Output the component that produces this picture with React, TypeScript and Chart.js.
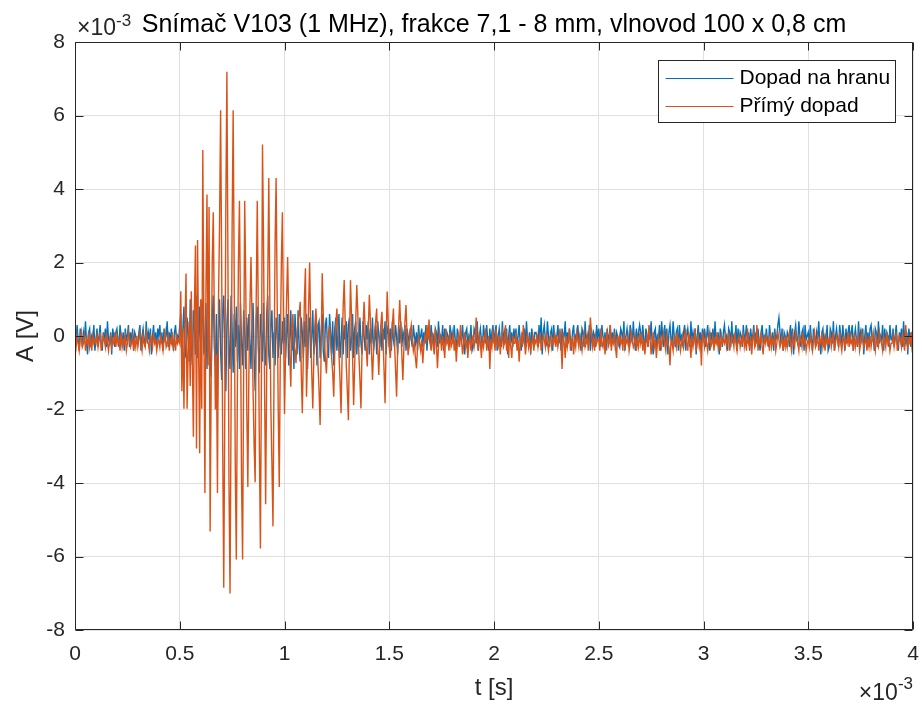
import React, { useEffect, useRef } from "react";
import { Chart, registerables } from "chart.js";

Chart.register(...registerables);

// ---------- texts ----------
const TITLE = "Snímač V103 (1 MHz), frakce 7,1 - 8 mm, vlnovod 100 x 0,8 cm";
const X_LABEL = "t [s]";
const Y_LABEL = "A [V]";
const SERIES_NAMES = ["Dopad na hranu", "Přímý dopad"];
const SCALE_EXPONENT = "-3";

// ---------- axes (values in units of 10^-3) ----------
const X_TICKS = [0, 0.5, 1, 1.5, 2, 2.5, 3, 3.5, 4];
const Y_TICKS = [-8, -6, -4, -2, 0, 2, 4, 6, 8];
const SAMPLE_STEP = 0.005; // time between samples, x 10^-3 s

// ---------- series (x 10^-3 V), one row = 0.1 x 10^-3 s ----------
const dopadNaHranu = [
  0.1,-0.2,0.3,-0.1,-0.4,0.2,0.0,-0.3,0.1,-0.1,0.4,-0.2,-0.5,0.1,0.2,-0.3,0.0,-0.1,0.3,-0.4,
  -0.1,0.2,-0.3,0.0,0.3,-0.2,-0.4,0.1,-0.1,0.2,-0.3,0.4,-0.1,-0.2,0.1,-0.5,0.2,0.0,-0.3,0.1,
  0.2,-0.1,-0.3,0.3,0.0,-0.2,0.1,-0.4,0.2,-0.1,0.0,0.3,-0.3,0.1,-0.2,0.2,-0.4,0.1,0.0,-0.2,
  -0.2,0.1,0.3,-0.4,0.0,0.2,-0.1,-0.3,0.4,-0.2,0.1,-0.1,0.2,-0.5,0.0,0.3,-0.2,0.1,-0.3,0.2,
  0.0,0.3,-0.2,0.1,-0.4,0.2,-0.1,0.0,0.4,-0.3,0.1,-0.2,0.2,-0.1,-0.4,0.1,0.3,-0.2,0.0,-0.1,
  0.3,0.6,-0.6,0.2,0.8,-0.4,-0.6,0.5,0.1,-0.7,1.0,-0.3,-0.8,0.7,0.2,-0.5,1.1,-0.6,0.0,0.8,
  -0.9,0.4,1.0,-0.5,-0.2,0.9,-0.9,0.3,0.6,-0.7,-1.1,0.5,1.1,-0.3,-0.8,0.6,-1.8,0.2,1.0,-0.4,
  -1.2,0.7,1.1,-0.6,-1.5,0.3,1.0,-0.4,-0.9,1.1,0.2,-1.0,0.6,-0.3,0.8,-0.7,0.3,-0.9,0.9,-0.2,
  -0.8,0.7,0.1,-0.9,0.5,-0.4,0.6,-0.2,-0.9,0.4,0.9,-0.6,-1.5,0.5,0.8,-0.3,-1.0,0.6,0.1,-0.7,
  0.9,-0.4,-0.8,0.6,1.1,-0.5,-0.9,0.3,0.7,-0.6,0.1,-0.8,0.5,0.2,-0.6,0.6,-0.3,-0.5,0.4,-0.2,
  0.5,-0.6,0.1,0.6,-0.8,-0.2,0.7,-0.4,0.2,-0.9,0.6,0.0,-0.5,0.7,-0.3,-0.7,0.5,0.1,-0.6,0.4,
  -0.3,0.6,-0.9,0.2,0.5,-0.6,0.0,0.7,-0.5,-0.2,0.5,-0.8,0.3,0.4,-0.6,0.1,0.6,-0.4,-0.7,0.3,
  0.5,-0.3,-0.6,0.6,0.1,-0.5,0.4,-0.8,0.2,0.5,-0.4,0.0,0.6,-0.6,-0.2,0.5,-0.5,0.3,-0.1,0.4,
  -0.6,0.3,0.5,-0.4,-0.1,0.6,-0.6,0.2,0.4,-0.5,0.1,-0.3,0.5,-0.2,-0.5,0.4,0.0,-0.4,0.3,-0.1,
  0.4,-0.5,0.2,-0.2,0.5,-0.4,-0.1,0.3,-0.5,0.4,0.0,-0.3,0.3,-0.4,0.2,-0.1,0.4,-0.5,0.1,0.3,
  -0.3,0.2,-0.4,0.4,-0.1,-0.3,0.3,0.0,-0.5,0.3,-0.2,0.4,-0.3,0.1,-0.1,0.3,-0.4,0.2,0.0,-0.2,
  0.2,-0.1,-0.3,0.3,0.0,-0.2,0.1,-0.4,0.3,-0.1,0.0,0.2,-0.3,0.1,-0.2,0.3,-0.4,0.1,0.0,-0.2,
  0.3,-0.1,0.0,-0.4,0.2,0.1,-0.3,0.4,-0.2,0.0,-0.1,0.3,-0.4,0.2,-0.2,0.1,0.0,-0.3,0.3,-0.1,
  0.1,-0.2,0.3,-0.1,-0.4,0.2,0.0,-0.3,0.1,-0.1,0.3,-0.2,-0.5,0.1,0.2,-0.3,0.0,-0.1,0.3,-0.4,
  -0.3,0.2,0.1,-0.2,0.4,-0.4,0.0,0.2,-0.1,-0.3,0.3,0.0,-0.2,0.3,-0.1,-0.4,0.2,-0.2,0.1,0.3,
  -0.2,0.1,0.3,-0.4,0.0,0.2,-0.1,-0.3,0.4,-0.2,0.1,-0.1,0.2,-0.5,0.0,0.3,-0.2,0.1,-0.3,0.2,
  -0.1,0.2,-0.3,0.0,0.3,-0.2,-0.4,0.1,-0.1,0.2,-0.3,0.4,-0.1,-0.2,0.1,-0.5,0.2,0.0,-0.3,0.1,
  0.1,0.0,-0.3,0.3,-0.2,0.5,-0.5,0.1,0.3,-0.1,-0.2,0.4,0.0,-0.3,0.1,0.2,-0.4,0.3,-0.1,0.0,
  0.0,0.3,-0.2,0.1,-0.4,0.2,-0.1,0.0,0.4,-0.3,0.1,-0.2,0.2,-0.1,-0.4,0.1,0.3,-0.2,0.0,-0.1,
  0.3,-0.1,0.0,-0.4,0.2,0.1,-0.3,0.4,-0.2,0.0,-0.1,0.3,-0.4,0.2,-0.2,0.1,0.0,-0.3,0.3,-0.1,
  0.2,-0.1,-0.3,0.3,0.0,-0.2,0.1,-0.4,0.2,-0.1,0.0,0.3,-0.3,0.1,-0.2,0.2,-0.4,0.1,0.0,-0.2,
  -0.3,0.2,0.1,-0.2,0.4,-0.4,0.0,0.2,-0.1,-0.3,0.3,0.0,-0.2,0.4,-0.1,-0.4,0.2,-0.2,0.1,0.3,
  0.1,-0.2,0.3,-0.1,-0.4,0.2,0.0,-0.3,0.1,-0.1,0.4,-0.2,-0.5,0.1,0.2,-0.3,0.0,-0.1,0.3,-0.4,
  0.4,0.0,-0.3,0.3,-0.2,0.2,-0.5,0.1,0.3,-0.1,-0.2,0.4,0.0,-0.3,0.1,0.2,-0.4,0.3,-0.1,0.0,
  -0.2,0.1,0.3,-0.4,0.0,0.2,-0.1,-0.3,0.4,-0.2,0.1,-0.1,0.2,-0.5,0.0,0.3,-0.2,0.1,-0.3,0.2,
  -0.1,0.2,-0.3,0.0,0.3,-0.2,-0.4,0.1,-0.1,0.2,-0.3,0.4,-0.1,-0.2,0.1,-0.5,0.2,0.0,-0.3,0.1,
  0.3,-0.1,0.0,-0.4,0.2,0.1,-0.3,0.4,-0.2,0.0,-0.1,0.3,-0.4,0.2,-0.2,0.1,0.0,-0.3,0.3,-0.1,
  0.0,0.3,-0.2,0.1,-0.4,0.2,-0.1,0.0,0.3,-0.3,0.1,-0.2,0.2,-0.1,-0.4,0.1,0.3,-0.2,0.0,-0.1,
  0.2,-0.1,-0.3,0.3,0.0,-0.2,0.1,-0.4,0.2,-0.1,0.0,0.3,0.5,0.1,-0.2,0.2,-0.4,0.1,0.0,-0.2,
  0.1,0.0,-0.3,0.3,-0.2,0.2,-0.5,0.1,0.3,-0.1,-0.2,0.4,0.0,-0.3,0.1,0.2,-0.4,0.3,-0.1,0.0,
  0.1,-0.2,0.3,-0.1,-0.4,0.2,0.0,-0.3,0.1,-0.1,0.4,-0.2,-0.5,0.1,0.2,-0.3,0.0,-0.1,0.3,-0.4,
  -0.3,0.2,0.1,-0.2,0.4,-0.4,0.0,0.2,-0.1,-0.3,0.3,0.0,-0.2,0.3,-0.1,-0.4,0.2,-0.2,0.1,0.3,
  -0.2,0.1,0.3,-0.4,0.0,0.2,-0.1,-0.3,0.4,-0.2,0.1,-0.1,0.2,-0.5,0.0,0.3,-0.2,0.1,-0.3,0.2,
  0.3,-0.1,0.0,-0.4,0.2,0.1,-0.3,0.4,-0.2,0.0,-0.1,0.3,-0.4,0.2,-0.2,0.1,0.0,-0.3,0.3,-0.1,
  -0.1,0.2,-0.3,0.0,0.3,-0.2,-0.4,0.1,-0.1,0.2,-0.3,0.4,-0.1,-0.2,0.1,-0.5,0.2,0.0,-0.3,0.1,
  0.1,
];

const primyDopad = [
  -0.1,-0.3,0.0,-0.2,-0.4,-0.1,0.1,-0.3,-0.2,0.0,-0.4,-0.1,-0.2,0.1,-0.3,-0.1,-0.4,0.0,-0.2,-0.1,
  -0.2,0.0,-0.3,-0.1,0.1,-0.4,-0.2,0.0,-0.1,-0.3,0.1,-0.2,-0.4,-0.1,0.0,-0.3,-0.1,-0.2,0.1,-0.3,
  0.0,-0.2,-0.1,-0.4,0.1,-0.3,-0.1,-0.2,0.0,-0.4,-0.2,0.1,-0.1,-0.3,-0.2,0.0,-0.4,-0.1,-0.3,0.0,
  -0.3,-0.1,0.1,-0.2,-0.4,0.0,-0.2,-0.3,0.1,-0.1,-0.2,-0.4,0.0,-0.1,-0.3,0.1,-0.2,-0.1,-0.4,-0.2,
  -0.1,-0.3,0.0,-0.2,-0.4,-0.1,0.1,-0.3,-0.2,0.0,-0.4,-0.1,-0.2,0.1,-0.3,-0.1,-0.4,0.0,-0.2,-0.1,
  -0.2,1.22,-1.5,0.2,-1.98,0.3,1.7,-1.98,-0.5,0.4,-1.36,1.22,-0.6,-2.74,0.8,2.46,-3.06,2.61,-0.4,-3.19,
  1.0,-1.98,5.06,0.5,-4.27,1.2,3.85,-0.8,3.51,-5.32,-1.2,2.0,3.37,0.5,-2.0,-0.5,-4.27,1.0,3.0,6.14,
  2.0,-3.0,-6.85,-2.0,3.5,7.19,2.0,-4.0,-7.01,-2.0,3.0,6.14,1.5,-3.5,-6.08,-1.5,2.0,3.68,0.5,-4.0,
  -6.08,-1.0,3.68,1.5,-2.0,-4.11,-1.0,0.8,2.15,0.5,-1.5,-3.0,-3.98,1.0,3.68,0.5,-3.0,-5.78,-1.0,5.21,
  2.5,-1.5,-4.58,-1.0,1.5,4.3,1.0,-2.0,-3.5,-5.18,-1.0,2.5,4.3,1.0,-2.0,-4.11,-0.5,2.0,3.37,0.5,
  -2.12,-0.5,1.0,2.15,0.5,-0.5,-1.38,0.2,0.6,-0.2,-0.4,-0.74,0.1,0.4,0.6,0.93,-1.0,-2.1,-0.5,1.0,
  1.84,-1.65,-0.5,0.8,2.0,0.2,-1.0,-1.97,-0.6,0.3,0.75,0.1,-0.8,-1.5,-2.42,-0.3,1.71,0.6,-0.2,-0.6,
  -1.02,-0.3,0.1,0.3,-0.2,-0.6,-1.0,-1.65,-0.4,0.3,0.75,0.2,-0.5,-1.2,-2.1,-0.5,0.8,1.52,0.3,-0.8,
  -1.5,-2.29,-0.2,1.52,0.5,-0.6,-1.88,-0.8,0.4,1.39,0.6,-0.5,-1.2,-1.97,-0.4,0.3,0.93,0.2,-0.3,-0.83,
  0.2,1.12,0.4,-0.4,-1.2,-0.4,0.1,0.4,0.75,-0.3,-1.06,-0.2,0.3,0.66,0.0,-0.9,-1.83,-0.2,1.21,0.4,
  -0.3,-0.6,-0.1,0.3,0.75,-0.2,-0.9,-1.65,-0.4,0.3,0.98,0.2,-0.5,-1.2,-0.3,0.4,0.84,0.0,-0.52,-0.2,
  0.1,0.3,-0.1,-0.4,-0.2,-0.6,-0.88,-0.3,0.0,-0.2,-0.4,-0.1,-0.74,-0.3,0.0,-0.2,0.3,-0.1,0.45,-0.2,
  -0.4,0.1,-0.3,-0.5,0.2,-0.2,-0.88,-0.3,0.1,-0.1,-0.4,0.0,-0.3,-0.6,0.2,-0.2,-0.1,-0.4,0.1,-0.3,
  -0.2,0.1,-0.4,-0.1,-0.7,-0.2,0.0,-0.3,0.3,-0.1,-0.5,-0.2,0.1,-0.3,-0.1,-0.6,-0.2,0.0,-0.4,-0.1,
  0.0,-0.3,-0.1,0.5,-0.2,-0.4,0.1,-0.2,-0.6,0.0,-0.3,-0.1,0.2,-0.4,-0.2,0.0,-0.9,-0.1,-0.3,0.1,
  -0.1,-0.4,0.2,-0.2,-0.3,0.0,-0.5,-0.1,0.1,-0.3,-0.2,0.3,-0.4,-0.1,-0.6,0.1,-0.3,-0.6,0.0,-0.2,
  -0.2,0.1,-0.4,-0.1,-0.7,-0.2,0.0,-0.3,0.3,-0.1,-0.5,-0.2,0.1,-0.3,-0.1,-0.4,-0.2,0.0,-0.4,-0.1,
  -0.2,0.0,-0.3,-0.1,0.1,-0.4,-0.2,0.0,-0.1,-0.3,0.1,-0.2,-0.4,-0.1,0.0,-0.3,-0.1,-0.2,0.1,-0.3,
  0.0,-0.3,-0.1,0.2,-0.2,-0.9,0.1,-0.2,-0.6,0.0,-0.3,-0.1,0.2,-0.4,-0.2,0.0,-0.5,-0.1,-0.3,0.1,
  -0.1,-0.3,0.0,-0.2,-0.4,-0.1,0.1,-0.3,-0.2,0.0,-0.4,-0.1,0.5,0.1,-0.3,-0.1,-0.4,0.0,-0.2,-0.1,
  -0.1,-0.4,0.2,-0.2,-0.3,0.0,-0.5,-0.1,0.1,-0.3,-0.2,0.3,-0.4,-0.1,-0.2,0.1,-0.3,-0.6,0.0,-0.2,
  0.0,-0.2,-0.1,-0.4,0.1,-0.3,-0.1,-0.2,0.0,-0.4,-0.2,0.1,-0.1,-0.3,-0.2,0.0,-0.4,-0.1,-0.3,0.0,
  -0.2,0.1,-0.4,-0.1,-0.5,-0.2,0.0,-0.3,0.3,-0.1,-0.5,-0.2,0.1,-0.3,-0.1,-0.6,-0.2,0.0,-0.4,-0.1,
  -0.3,-0.1,0.1,-0.2,-0.4,0.0,-0.2,-0.3,-0.8,-0.1,-0.2,-0.4,0.0,-0.1,-0.3,0.1,-0.2,-0.1,-0.4,-0.2,
  0.0,-0.3,-0.1,0.2,-0.2,-0.4,0.1,-0.2,-0.6,0.0,-0.3,-0.1,0.2,-0.4,-0.2,0.0,-0.3,-0.1,-0.8,0.1,
  -0.1,-0.3,0.0,-0.2,-0.4,-0.1,0.1,-0.3,-0.2,0.0,-0.4,-0.1,-0.2,0.1,-0.3,-0.1,-0.4,0.0,-0.2,-0.1,
  -0.2,0.0,-0.3,-0.1,0.1,-0.4,-0.2,0.0,-0.1,-0.3,0.1,-0.2,-0.4,-0.1,0.0,-0.3,-0.1,-0.2,0.1,-0.3,
  -0.1,-0.4,0.2,-0.2,-0.3,0.0,-0.5,-0.1,0.1,-0.3,-0.2,0.3,-0.4,-0.1,-0.2,0.1,-0.3,-0.5,0.0,-0.2,
  0.0,-0.2,-0.1,-0.4,0.1,-0.3,-0.1,-0.2,0.0,-0.4,-0.2,0.1,-0.1,-0.3,-0.2,0.0,-0.4,-0.1,-0.3,0.0,
  -0.3,-0.1,0.1,-0.2,-0.4,0.0,-0.2,-0.3,0.1,-0.1,-0.2,-0.4,0.0,-0.1,-0.3,0.1,-0.2,-0.1,-0.4,-0.2,
  -0.1,-0.3,0.0,-0.2,-0.4,-0.1,0.1,-0.3,-0.2,0.0,-0.4,-0.1,-0.2,0.1,-0.3,-0.1,-0.4,0.0,-0.2,-0.1,
  -0.2,0.0,-0.3,-0.1,0.1,-0.4,-0.2,0.0,-0.1,-0.3,0.1,-0.2,-0.4,-0.1,0.0,-0.3,-0.1,-0.2,0.1,-0.3,
  0.0,-0.2,-0.1,-0.4,0.1,-0.3,-0.1,-0.2,0.0,-0.4,-0.2,0.1,-0.1,-0.3,-0.2,0.0,-0.4,-0.1,-0.3,0.0,
  -0.3,-0.1,0.1,-0.2,-0.4,0.0,-0.2,-0.3,0.1,-0.1,-0.2,-0.4,0.0,-0.1,-0.3,0.1,-0.2,-0.1,-0.4,-0.2,
  -0.2,0.0,-0.3,-0.1,0.1,-0.4,-0.2,0.0,-0.1,-0.3,0.1,-0.2,-0.4,0.3,0.0,-0.3,-0.1,-0.2,0.1,-0.3,
  -0.1,
];

// ---------- styling ----------
const COLORS = ["#0072BD", "#D95319"];
const FONT = '"Liberation Sans", Arial, Helvetica, sans-serif';
const AXIS_COLOR = "#262626";
const GRID_COLOR = "#e0e0e0";

const toPoints = (vals: number[]) => vals.map((v, i) => ({ x: i * SAMPLE_STEP, y: v }));

const decorPlugin = {
  id: "matlabDecor",
  afterDraw(chart: any) {
    const { ctx, chartArea: a, scales } = chart;
    const xs = scales.x;
    const ys = scales.y;
    ctx.save();

    // box
    ctx.strokeStyle = AXIS_COLOR;
    ctx.lineWidth = 1;
    const L = Math.round(a.left) + 0.5;
    const R = Math.round(a.right) - 0.5;
    const T = Math.round(a.top) + 0.5;
    const B = Math.round(a.bottom) - 0.5;
    ctx.beginPath();
    ctx.rect(L, T, R - L, B - T);
    // inward ticks
    const TL = 8;
    X_TICKS.forEach((v) => {
      const px = Math.round(xs.getPixelForValue(v)) + 0.5;
      ctx.moveTo(px, B);
      ctx.lineTo(px, B - TL);
      ctx.moveTo(px, T);
      ctx.lineTo(px, T + TL);
    });
    Y_TICKS.forEach((v) => {
      const py = Math.round(ys.getPixelForValue(v)) + 0.5;
      ctx.moveTo(L, py);
      ctx.lineTo(L + TL, py);
      ctx.moveTo(R, py);
      ctx.lineTo(R - TL, py);
    });
    ctx.stroke();

    // title
    const cx = (a.left + a.right) / 2;
    ctx.fillStyle = "#000";
    ctx.textAlign = "center";
    ctx.textBaseline = "alphabetic";
    ctx.font = `25px ${FONT}`;
    ctx.fillText(TITLE, cx, a.top - 10);

    // exponent labels
    const base = "\u00d710";
    ctx.fillStyle = AXIS_COLOR;
    ctx.textAlign = "left";
    ctx.font = `23px ${FONT}`;
    const w = ctx.measureText(base).width;
    ctx.font = `17px ${FONT}`;
    const we = ctx.measureText(SCALE_EXPONENT).width;

    ctx.font = `23px ${FONT}`;
    ctx.fillText(base, a.left + 2, a.top - 7);
    ctx.font = `17px ${FONT}`;
    ctx.fillText(SCALE_EXPONENT, a.left + 2 + w, a.top - 16);

    const sx = a.right - we - w;
    ctx.font = `23px ${FONT}`;
    ctx.fillText(base, sx, a.bottom + 70);
    ctx.font = `17px ${FONT}`;
    ctx.fillText(SCALE_EXPONENT, sx + w, a.bottom + 59);

    // axis titles
    ctx.font = `24px ${FONT}`;
    ctx.fillStyle = AXIS_COLOR;
    ctx.textAlign = "center";
    ctx.textBaseline = "middle";
    ctx.fillText(X_LABEL, cx, a.bottom + 58);
    ctx.save();
    ctx.translate(26, (a.top + a.bottom) / 2);
    ctx.rotate(-Math.PI / 2);
    ctx.fillText(Y_LABEL, 0, 0);
    ctx.restore();

    // legend
    const lw = 237;
    const lh = 62;
    const lx = Math.round(a.right - 18 - lw) + 0.5;
    const ly = Math.round(a.top + 18) + 0.5;
    ctx.fillStyle = "#fff";
    ctx.fillRect(lx, ly, lw, lh);
    ctx.strokeStyle = AXIS_COLOR;
    ctx.lineWidth = 1;
    ctx.strokeRect(lx, ly, lw, lh);
    ctx.font = `21px ${FONT}`;
    ctx.textAlign = "left";
    ctx.textBaseline = "middle";
    SERIES_NAMES.forEach((name, i) => {
      const yy = Math.round(ly + 17 + i * 28) + 0.5;
      ctx.strokeStyle = COLORS[i];
      ctx.beginPath();
      ctx.moveTo(lx + 7, yy);
      ctx.lineTo(lx + 75, yy);
      ctx.stroke();
      ctx.fillStyle = "#000";
      ctx.fillText(name, lx + 81, yy);
    });

    ctx.restore();
  },
};

export default function App() {
  const ref = useRef<HTMLCanvasElement | null>(null);

  useEffect(() => {
    if (!ref.current) return;
    const chart = new Chart(ref.current, {
      type: "line",
      data: {
        datasets: [
          {
            label: SERIES_NAMES[0],
            data: toPoints(dopadNaHranu),
            borderColor: COLORS[0],
            backgroundColor: COLORS[0],
            borderWidth: 1.4,
            pointRadius: 0,
            tension: 0,
            fill: false,
            order: 1,
          },
          {
            label: SERIES_NAMES[1],
            data: toPoints(primyDopad),
            borderColor: COLORS[1],
            backgroundColor: COLORS[1],
            borderWidth: 1.4,
            pointRadius: 0,
            tension: 0,
            fill: false,
            order: 0,
          },
        ],
      },
      options: {
        responsive: false,
        animation: false,
        devicePixelRatio: 1,
        events: [],
        layout: { padding: { top: 42, right: 9, left: 0, bottom: 0 } },
        plugins: {
          legend: { display: false },
          title: { display: false },
          tooltip: { enabled: false },
        },
        scales: {
          x: {
            type: "linear",
            min: 0,
            max: 4,
            afterFit: (s: any) => {
              s.height = 74;
              s.paddingLeft = 0;
              s.paddingRight = 0;
            },
            afterBuildTicks: (s: any) => {
              s.ticks = X_TICKS.map((v) => ({ value: v }));
            },
            ticks: {
              color: AXIS_COLOR,
              font: { family: FONT, size: 21 },
              padding: 12,
              maxRotation: 0,
              autoSkip: false,
              callback: (v: any) => String(v),
            },
            grid: { color: GRID_COLOR, drawTicks: false, lineWidth: 1 },
            border: { display: false },
          },
          y: {
            type: "linear",
            min: -8,
            max: 8,
            afterFit: (s: any) => {
              s.width = 75;
              s.paddingTop = 0;
              s.paddingBottom = 0;
            },
            afterBuildTicks: (s: any) => {
              s.ticks = Y_TICKS.map((v) => ({ value: v }));
            },
            ticks: {
              color: AXIS_COLOR,
              font: { family: FONT, size: 21 },
              padding: 10,
              autoSkip: false,
              callback: (v: any) => String(v),
            },
            grid: { color: GRID_COLOR, drawTicks: false, lineWidth: 1 },
            border: { display: false },
          },
        },
      },
      plugins: [decorPlugin],
    });
    return () => chart.destroy();
  }, []);

  return (
    <div style={{ position: "fixed", left: 0, top: 0, width: 922, height: 704, background: "#fff" }}>
      <canvas ref={ref} width={922} height={704} style={{ display: "block", width: 922, height: 704 }} />
    </div>
  );
}
